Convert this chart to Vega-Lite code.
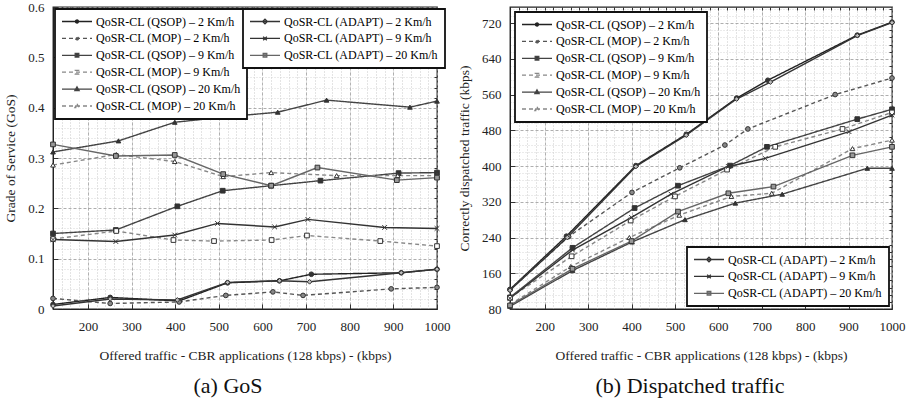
{
  "$schema": "https://vega.github.io/schema/vega-lite/v6.json",
  "padding": {"left": 3, "top": 0, "right": 5, "bottom": 0},
  "background": "white",
  "spacing": 5,
  "config": {
    "font": "Liberation Serif",
    "view": {"stroke": "#222", "strokeWidth": 1.3},
    "axis": {"labelFont": "Liberation Serif", "titleFont": "Liberation Serif", "labelFontSize": 13, "titleFontSize": 13.5, "titleFontWeight": "normal", "labelColor": "#222", "titleColor": "#222", "labelFlush": false},
    "legend": {"labelFont": "Liberation Serif"}
  },
  "datasets": {
    "gos": [
      {"s": "QoSR-CL (QSOP) – 2 Km/h", "g": "A", "x": 120, "y": 0.009},
      {"s": "QoSR-CL (QSOP) – 2 Km/h", "g": "A", "x": 251, "y": 0.023},
      {"s": "QoSR-CL (QSOP) – 2 Km/h", "g": "A", "x": 409, "y": 0.016},
      {"s": "QoSR-CL (QSOP) – 2 Km/h", "g": "A", "x": 520, "y": 0.052},
      {"s": "QoSR-CL (QSOP) – 2 Km/h", "g": "A", "x": 639, "y": 0.056},
      {"s": "QoSR-CL (QSOP) – 2 Km/h", "g": "A", "x": 712, "y": 0.069},
      {"s": "QoSR-CL (QSOP) – 2 Km/h", "g": "A", "x": 918, "y": 0.072},
      {"s": "QoSR-CL (QSOP) – 2 Km/h", "g": "A", "x": 1000, "y": 0.079},
      {"s": "QoSR-CL (MOP) – 2 Km/h", "g": "A", "x": 120, "y": 0.021},
      {"s": "QoSR-CL (MOP) – 2 Km/h", "g": "A", "x": 251, "y": 0.011},
      {"s": "QoSR-CL (MOP) – 2 Km/h", "g": "A", "x": 409, "y": 0.014},
      {"s": "QoSR-CL (MOP) – 2 Km/h", "g": "A", "x": 516, "y": 0.027},
      {"s": "QoSR-CL (MOP) – 2 Km/h", "g": "A", "x": 624, "y": 0.034},
      {"s": "QoSR-CL (MOP) – 2 Km/h", "g": "A", "x": 693, "y": 0.027},
      {"s": "QoSR-CL (MOP) – 2 Km/h", "g": "A", "x": 895, "y": 0.040},
      {"s": "QoSR-CL (MOP) – 2 Km/h", "g": "A", "x": 1000, "y": 0.043},
      {"s": "QoSR-CL (QSOP) – 9 Km/h", "g": "A", "x": 120, "y": 0.150},
      {"s": "QoSR-CL (QSOP) – 9 Km/h", "g": "A", "x": 264, "y": 0.157},
      {"s": "QoSR-CL (QSOP) – 9 Km/h", "g": "A", "x": 405, "y": 0.204},
      {"s": "QoSR-CL (QSOP) – 9 Km/h", "g": "A", "x": 509, "y": 0.235},
      {"s": "QoSR-CL (QSOP) – 9 Km/h", "g": "A", "x": 620, "y": 0.245},
      {"s": "QoSR-CL (QSOP) – 9 Km/h", "g": "A", "x": 733, "y": 0.255},
      {"s": "QoSR-CL (QSOP) – 9 Km/h", "g": "A", "x": 912, "y": 0.270},
      {"s": "QoSR-CL (QSOP) – 9 Km/h", "g": "A", "x": 1000, "y": 0.271},
      {"s": "QoSR-CL (MOP) – 9 Km/h", "g": "A", "x": 120, "y": 0.139},
      {"s": "QoSR-CL (MOP) – 9 Km/h", "g": "A", "x": 265, "y": 0.155},
      {"s": "QoSR-CL (MOP) – 9 Km/h", "g": "A", "x": 396, "y": 0.137},
      {"s": "QoSR-CL (MOP) – 9 Km/h", "g": "A", "x": 489, "y": 0.135},
      {"s": "QoSR-CL (MOP) – 9 Km/h", "g": "A", "x": 621, "y": 0.137},
      {"s": "QoSR-CL (MOP) – 9 Km/h", "g": "A", "x": 702, "y": 0.146},
      {"s": "QoSR-CL (MOP) – 9 Km/h", "g": "A", "x": 870, "y": 0.135},
      {"s": "QoSR-CL (MOP) – 9 Km/h", "g": "A", "x": 1000, "y": 0.125},
      {"s": "QoSR-CL (QSOP) – 20 Km/h", "g": "A", "x": 120, "y": 0.312},
      {"s": "QoSR-CL (QSOP) – 20 Km/h", "g": "A", "x": 270, "y": 0.334},
      {"s": "QoSR-CL (QSOP) – 20 Km/h", "g": "A", "x": 399, "y": 0.371},
      {"s": "QoSR-CL (QSOP) – 20 Km/h", "g": "A", "x": 520, "y": 0.382},
      {"s": "QoSR-CL (QSOP) – 20 Km/h", "g": "A", "x": 635, "y": 0.391},
      {"s": "QoSR-CL (QSOP) – 20 Km/h", "g": "A", "x": 747, "y": 0.415},
      {"s": "QoSR-CL (QSOP) – 20 Km/h", "g": "A", "x": 938, "y": 0.401},
      {"s": "QoSR-CL (QSOP) – 20 Km/h", "g": "A", "x": 1000, "y": 0.413},
      {"s": "QoSR-CL (MOP) – 20 Km/h", "g": "A", "x": 120, "y": 0.286},
      {"s": "QoSR-CL (MOP) – 20 Km/h", "g": "A", "x": 265, "y": 0.307},
      {"s": "QoSR-CL (MOP) – 20 Km/h", "g": "A", "x": 399, "y": 0.293},
      {"s": "QoSR-CL (MOP) – 20 Km/h", "g": "A", "x": 510, "y": 0.263},
      {"s": "QoSR-CL (MOP) – 20 Km/h", "g": "A", "x": 620, "y": 0.271},
      {"s": "QoSR-CL (MOP) – 20 Km/h", "g": "A", "x": 770, "y": 0.265},
      {"s": "QoSR-CL (MOP) – 20 Km/h", "g": "A", "x": 910, "y": 0.265},
      {"s": "QoSR-CL (MOP) – 20 Km/h", "g": "A", "x": 1000, "y": 0.265},
      {"s": "QoSR-CL (ADAPT) – 2 Km/h", "g": "B", "x": 120, "y": 0.006},
      {"s": "QoSR-CL (ADAPT) – 2 Km/h", "g": "B", "x": 251, "y": 0.020},
      {"s": "QoSR-CL (ADAPT) – 2 Km/h", "g": "B", "x": 405, "y": 0.018},
      {"s": "QoSR-CL (ADAPT) – 2 Km/h", "g": "B", "x": 520, "y": 0.053},
      {"s": "QoSR-CL (ADAPT) – 2 Km/h", "g": "B", "x": 639, "y": 0.056},
      {"s": "QoSR-CL (ADAPT) – 2 Km/h", "g": "B", "x": 708, "y": 0.054},
      {"s": "QoSR-CL (ADAPT) – 2 Km/h", "g": "B", "x": 918, "y": 0.072},
      {"s": "QoSR-CL (ADAPT) – 2 Km/h", "g": "B", "x": 1000, "y": 0.079},
      {"s": "QoSR-CL (ADAPT) – 9 Km/h", "g": "B", "x": 120, "y": 0.138},
      {"s": "QoSR-CL (ADAPT) – 9 Km/h", "g": "B", "x": 264, "y": 0.134},
      {"s": "QoSR-CL (ADAPT) – 9 Km/h", "g": "B", "x": 399, "y": 0.147},
      {"s": "QoSR-CL (ADAPT) – 9 Km/h", "g": "B", "x": 497, "y": 0.170},
      {"s": "QoSR-CL (ADAPT) – 9 Km/h", "g": "B", "x": 628, "y": 0.163},
      {"s": "QoSR-CL (ADAPT) – 9 Km/h", "g": "B", "x": 704, "y": 0.178},
      {"s": "QoSR-CL (ADAPT) – 9 Km/h", "g": "B", "x": 880, "y": 0.162},
      {"s": "QoSR-CL (ADAPT) – 9 Km/h", "g": "B", "x": 1000, "y": 0.160},
      {"s": "QoSR-CL (ADAPT) – 20 Km/h", "g": "B", "x": 120, "y": 0.327},
      {"s": "QoSR-CL (ADAPT) – 20 Km/h", "g": "B", "x": 264, "y": 0.304},
      {"s": "QoSR-CL (ADAPT) – 20 Km/h", "g": "B", "x": 399, "y": 0.306},
      {"s": "QoSR-CL (ADAPT) – 20 Km/h", "g": "B", "x": 510, "y": 0.268},
      {"s": "QoSR-CL (ADAPT) – 20 Km/h", "g": "B", "x": 620, "y": 0.245},
      {"s": "QoSR-CL (ADAPT) – 20 Km/h", "g": "B", "x": 726, "y": 0.281},
      {"s": "QoSR-CL (ADAPT) – 20 Km/h", "g": "B", "x": 908, "y": 0.256},
      {"s": "QoSR-CL (ADAPT) – 20 Km/h", "g": "B", "x": 1000, "y": 0.261}
    ],
    "trf": [
      {"s": "QoSR-CL (QSOP) – 2 Km/h", "g": "A", "x": 120, "y": 124},
      {"s": "QoSR-CL (QSOP) – 2 Km/h", "g": "A", "x": 250, "y": 243},
      {"s": "QoSR-CL (QSOP) – 2 Km/h", "g": "A", "x": 410, "y": 401},
      {"s": "QoSR-CL (QSOP) – 2 Km/h", "g": "A", "x": 526, "y": 471},
      {"s": "QoSR-CL (QSOP) – 2 Km/h", "g": "A", "x": 642, "y": 552},
      {"s": "QoSR-CL (QSOP) – 2 Km/h", "g": "A", "x": 714, "y": 592},
      {"s": "QoSR-CL (QSOP) – 2 Km/h", "g": "A", "x": 920, "y": 693},
      {"s": "QoSR-CL (QSOP) – 2 Km/h", "g": "A", "x": 1000, "y": 722},
      {"s": "QoSR-CL (MOP) – 2 Km/h", "g": "A", "x": 120, "y": 123},
      {"s": "QoSR-CL (MOP) – 2 Km/h", "g": "A", "x": 255, "y": 242},
      {"s": "QoSR-CL (MOP) – 2 Km/h", "g": "A", "x": 401, "y": 341},
      {"s": "QoSR-CL (MOP) – 2 Km/h", "g": "A", "x": 511, "y": 396},
      {"s": "QoSR-CL (MOP) – 2 Km/h", "g": "A", "x": 615, "y": 447},
      {"s": "QoSR-CL (MOP) – 2 Km/h", "g": "A", "x": 668, "y": 483},
      {"s": "QoSR-CL (MOP) – 2 Km/h", "g": "A", "x": 869, "y": 560},
      {"s": "QoSR-CL (MOP) – 2 Km/h", "g": "A", "x": 1000, "y": 597},
      {"s": "QoSR-CL (QSOP) – 9 Km/h", "g": "A", "x": 120, "y": 106},
      {"s": "QoSR-CL (QSOP) – 9 Km/h", "g": "A", "x": 264, "y": 217},
      {"s": "QoSR-CL (QSOP) – 9 Km/h", "g": "A", "x": 407, "y": 306},
      {"s": "QoSR-CL (QSOP) – 9 Km/h", "g": "A", "x": 507, "y": 356},
      {"s": "QoSR-CL (QSOP) – 9 Km/h", "g": "A", "x": 627, "y": 401},
      {"s": "QoSR-CL (QSOP) – 9 Km/h", "g": "A", "x": 712, "y": 443},
      {"s": "QoSR-CL (QSOP) – 9 Km/h", "g": "A", "x": 920, "y": 505},
      {"s": "QoSR-CL (QSOP) – 9 Km/h", "g": "A", "x": 1000, "y": 527},
      {"s": "QoSR-CL (MOP) – 9 Km/h", "g": "A", "x": 120, "y": 105},
      {"s": "QoSR-CL (MOP) – 9 Km/h", "g": "A", "x": 262, "y": 198},
      {"s": "QoSR-CL (MOP) – 9 Km/h", "g": "A", "x": 398, "y": 278},
      {"s": "QoSR-CL (MOP) – 9 Km/h", "g": "A", "x": 500, "y": 332},
      {"s": "QoSR-CL (MOP) – 9 Km/h", "g": "A", "x": 620, "y": 392},
      {"s": "QoSR-CL (MOP) – 9 Km/h", "g": "A", "x": 731, "y": 443},
      {"s": "QoSR-CL (MOP) – 9 Km/h", "g": "A", "x": 886, "y": 483},
      {"s": "QoSR-CL (MOP) – 9 Km/h", "g": "A", "x": 1000, "y": 520},
      {"s": "QoSR-CL (QSOP) – 20 Km/h", "g": "A", "x": 120, "y": 86},
      {"s": "QoSR-CL (QSOP) – 20 Km/h", "g": "A", "x": 264, "y": 166},
      {"s": "QoSR-CL (QSOP) – 20 Km/h", "g": "A", "x": 401, "y": 230},
      {"s": "QoSR-CL (QSOP) – 20 Km/h", "g": "A", "x": 523, "y": 280},
      {"s": "QoSR-CL (QSOP) – 20 Km/h", "g": "A", "x": 639, "y": 317},
      {"s": "QoSR-CL (QSOP) – 20 Km/h", "g": "A", "x": 747, "y": 337},
      {"s": "QoSR-CL (QSOP) – 20 Km/h", "g": "A", "x": 943, "y": 395},
      {"s": "QoSR-CL (QSOP) – 20 Km/h", "g": "A", "x": 1000, "y": 395},
      {"s": "QoSR-CL (MOP) – 20 Km/h", "g": "A", "x": 120, "y": 90},
      {"s": "QoSR-CL (MOP) – 20 Km/h", "g": "A", "x": 260, "y": 175},
      {"s": "QoSR-CL (MOP) – 20 Km/h", "g": "A", "x": 395, "y": 240},
      {"s": "QoSR-CL (MOP) – 20 Km/h", "g": "A", "x": 510, "y": 290},
      {"s": "QoSR-CL (MOP) – 20 Km/h", "g": "A", "x": 630, "y": 332},
      {"s": "QoSR-CL (MOP) – 20 Km/h", "g": "A", "x": 723, "y": 339},
      {"s": "QoSR-CL (MOP) – 20 Km/h", "g": "A", "x": 909, "y": 439},
      {"s": "QoSR-CL (MOP) – 20 Km/h", "g": "A", "x": 1000, "y": 458},
      {"s": "QoSR-CL (ADAPT) – 2 Km/h", "g": "B", "x": 120, "y": 122},
      {"s": "QoSR-CL (ADAPT) – 2 Km/h", "g": "B", "x": 252, "y": 240},
      {"s": "QoSR-CL (ADAPT) – 2 Km/h", "g": "B", "x": 410, "y": 399},
      {"s": "QoSR-CL (ADAPT) – 2 Km/h", "g": "B", "x": 526, "y": 469},
      {"s": "QoSR-CL (ADAPT) – 2 Km/h", "g": "B", "x": 642, "y": 550},
      {"s": "QoSR-CL (ADAPT) – 2 Km/h", "g": "B", "x": 720, "y": 588},
      {"s": "QoSR-CL (ADAPT) – 2 Km/h", "g": "B", "x": 920, "y": 692},
      {"s": "QoSR-CL (ADAPT) – 2 Km/h", "g": "B", "x": 1000, "y": 721},
      {"s": "QoSR-CL (ADAPT) – 9 Km/h", "g": "B", "x": 120, "y": 104},
      {"s": "QoSR-CL (ADAPT) – 9 Km/h", "g": "B", "x": 264, "y": 212},
      {"s": "QoSR-CL (ADAPT) – 9 Km/h", "g": "B", "x": 400, "y": 285},
      {"s": "QoSR-CL (ADAPT) – 9 Km/h", "g": "B", "x": 491, "y": 337},
      {"s": "QoSR-CL (ADAPT) – 9 Km/h", "g": "B", "x": 623, "y": 399},
      {"s": "QoSR-CL (ADAPT) – 9 Km/h", "g": "B", "x": 708, "y": 417},
      {"s": "QoSR-CL (ADAPT) – 9 Km/h", "g": "B", "x": 901, "y": 477},
      {"s": "QoSR-CL (ADAPT) – 9 Km/h", "g": "B", "x": 1000, "y": 514},
      {"s": "QoSR-CL (ADAPT) – 20 Km/h", "g": "B", "x": 120, "y": 88},
      {"s": "QoSR-CL (ADAPT) – 20 Km/h", "g": "B", "x": 264, "y": 170},
      {"s": "QoSR-CL (ADAPT) – 20 Km/h", "g": "B", "x": 400, "y": 232},
      {"s": "QoSR-CL (ADAPT) – 20 Km/h", "g": "B", "x": 507, "y": 298},
      {"s": "QoSR-CL (ADAPT) – 20 Km/h", "g": "B", "x": 623, "y": 339},
      {"s": "QoSR-CL (ADAPT) – 20 Km/h", "g": "B", "x": 727, "y": 354},
      {"s": "QoSR-CL (ADAPT) – 20 Km/h", "g": "B", "x": 909, "y": 424},
      {"s": "QoSR-CL (ADAPT) – 20 Km/h", "g": "B", "x": 1000, "y": 443}
    ]
  },
  "hconcat": [
    {
      "width": 384,
      "height": 302,
      "data": {"name": "gos"},
      "title": {"text": "(a) GoS", "orient": "bottom", "anchor": "middle", "frame": "group", "dx": -17, "offset": 14, "fontSize": 22, "font": "Liberation Serif", "fontWeight": "normal", "color": "#111"},
      "layer": [
        {
          "transform": [{"filter": "datum.g === 'A'"}],
          "mark": {"type": "line", "strokeWidth": 1.4},
          "encoding": {
            "x": {"field": "x", "type": "quantitative", "scale": {"domain": [120, 1000], "nice": false, "zero": false},
              "axis": {"orient": "bottom", "values": [200, 300, 400, 500, 600, 700, 800, 900, 1000], "format": "d", "grid": true, "gridDash": [3, 2], "gridColor": "#999", "gridWidth": 0.8, "tickSize": -5, "tickColor": "#333", "labelPadding": 16, "domainColor": "#222", "title": "Offered traffic - CBR applications (128 kbps) - (kbps)", "titlePadding": 15}},
            "y": {"field": "y", "type": "quantitative", "scale": {"domain": [0, 0.6], "nice": false},
              "axis": {"orient": "left", "values": [0, 0.1, 0.2, 0.3, 0.4, 0.5, 0.6], "format": ".1~f", "grid": true, "gridDash": [3, 2], "gridColor": "#999", "gridWidth": 0.8, "tickSize": -5, "tickColor": "#333", "labelPadding": 14, "domainColor": "#222", "title": "Grade of Service (GoS)", "titlePadding": 10}},
            "color": {"field": "s", "type": "nominal", "sort": null,
              "scale": {"domain": ["QoSR-CL (QSOP) – 2 Km/h", "QoSR-CL (MOP) – 2 Km/h", "QoSR-CL (QSOP) – 9 Km/h", "QoSR-CL (MOP) – 9 Km/h", "QoSR-CL (QSOP) – 20 Km/h", "QoSR-CL (MOP) – 20 Km/h"], "range": ["#222", "#555", "#444", "#888", "#444", "#888"]},
              "legend": {"orient": "none", "legendX": 2, "legendY": 2, "title": null, "fillColor": "white", "strokeColor": "#111", "padding": 6, "symbolSize": 900, "clipHeight": 13, "rowPadding": 3.9, "labelFontSize": 12, "labelOffset": 3, "labelLimit": 300, "symbolStrokeWidth": 1.3,
                "encode": {"legend": {"update": {"strokeWidth": {"value": 1.8}}},
                  "symbols": {"update": {
                    "shape": {"signal": "indexof(datum.value,' 2 Km')>=0 ? 'M-1,0H1M0.1,0A0.1,0.1 0 1,1 -0.1,0A0.1,0.1 0 1,1 0.1,0Z' : indexof(datum.value,' 9 Km')>=0 ? 'M-1,0H1M-0.12,-0.12H0.12V0.12H-0.12Z' : 'M-1,0H1M0,-0.15L0.14,0.1H-0.14Z'"},
                    "fill": {"signal": "indexof(datum.value,'MOP')>=0 ? (indexof(datum.value,' 2 Km')>=0 ? '#888' : 'white') : '#333'"},
                    "strokeDash": {"signal": "indexof(datum.value,'MOP')>=0 ? [4,3] : [1,0]"}}}}}},
            "strokeDash": {"field": "s", "type": "nominal", "sort": null,
              "scale": {"domain": ["QoSR-CL (QSOP) – 2 Km/h", "QoSR-CL (MOP) – 2 Km/h", "QoSR-CL (QSOP) – 9 Km/h", "QoSR-CL (MOP) – 9 Km/h", "QoSR-CL (QSOP) – 20 Km/h", "QoSR-CL (MOP) – 20 Km/h"], "range": [[1, 0], [4, 3], [1, 0], [4, 3], [1, 0], [4, 3]]}, "legend": null}
          }
        },
        {
          "transform": [{"filter": "datum.g === 'B'"}],
          "mark": {"type": "line", "strokeWidth": 1.4},
          "encoding": {
            "x": {"field": "x", "type": "quantitative", "axis": null},
            "y": {"field": "y", "type": "quantitative", "axis": null},
            "color": {"field": "s", "type": "nominal", "sort": null,
              "scale": {"domain": ["QoSR-CL (ADAPT) – 2 Km/h", "QoSR-CL (ADAPT) – 9 Km/h", "QoSR-CL (ADAPT) – 20 Km/h"], "range": ["#333", "#333", "#666"]},
              "legend": {"orient": "none", "legendX": 190, "legendY": 2, "title": null, "fillColor": "white", "strokeColor": "#111", "padding": 6, "symbolSize": 900, "clipHeight": 13, "rowPadding": 3.9, "labelFontSize": 12, "labelOffset": 3, "labelLimit": 300, "symbolStrokeWidth": 1.3,
                "encode": {"legend": {"update": {"strokeWidth": {"value": 1.8}}},
                  "symbols": {"update": {
                    "shape": {"signal": "indexof(datum.value,' 2 Km')>=0 ? 'M-1,0H1M0,-0.16L0.16,0L0,0.16L-0.16,0Z' : indexof(datum.value,' 9 Km')>=0 ? 'M-1,0H1M-0.12,-0.12L0.12,0.12M-0.12,0.12L0.12,-0.12' : 'M-1,0H1M-0.12,-0.12H0.12V0.12H-0.12Z'"},
                    "fill": {"signal": "indexof(datum.value,' 2 Km')>=0 ? '#aaa' : indexof(datum.value,' 9 Km')>=0 ? 'transparent' : '#999'"}}}}}}
          }
        },
        {
          "mark": {"type": "point", "filled": true, "size": 22, "stroke": "#333", "strokeWidth": 1, "opacity": 1},
          "encoding": {
            "x": {"field": "x", "type": "quantitative", "axis": {"orient": "top", "values": [140, 160, 180, 200, 220, 240, 260, 280, 300, 320, 340, 360, 380, 400, 420, 440, 460, 480, 500, 520, 540, 560, 580, 600, 620, 640, 660, 680, 700, 720, 740, 760, 780, 800, 820, 840, 860, 880, 900, 920, 940, 960, 980], "grid": true, "gridDash": [1, 2], "gridColor": "#bbb", "gridWidth": 0.8, "labels": false, "ticks": true, "tickSize": -3, "tickColor": "#333", "domain": false, "title": null}},
            "y": {"field": "y", "type": "quantitative", "axis": {"orient": "right", "values": [0.02, 0.04, 0.06, 0.08, 0.12, 0.14, 0.16, 0.18, 0.22, 0.24, 0.26, 0.28, 0.32, 0.34, 0.36, 0.38, 0.42, 0.44, 0.46, 0.48, 0.52, 0.54, 0.56, 0.58], "grid": true, "gridDash": [1, 2], "gridColor": "#ccc", "gridWidth": 0.8, "labels": false, "ticks": true, "tickSize": -3, "tickColor": "#333", "domain": false, "title": null}},
            "shape": {"field": "s", "type": "nominal", "sort": null, "legend": null,
              "scale": {"domain": ["QoSR-CL (QSOP) – 2 Km/h", "QoSR-CL (MOP) – 2 Km/h", "QoSR-CL (QSOP) – 9 Km/h", "QoSR-CL (MOP) – 9 Km/h", "QoSR-CL (QSOP) – 20 Km/h", "QoSR-CL (MOP) – 20 Km/h", "QoSR-CL (ADAPT) – 2 Km/h", "QoSR-CL (ADAPT) – 9 Km/h", "QoSR-CL (ADAPT) – 20 Km/h"], "range": ["circle", "circle", "square", "square", "triangle-up", "triangle-up", "diamond", "M-1,-1L1,1M-1,1L1,-1", "square"]}},
            "fill": {"field": "s", "type": "nominal", "sort": null, "legend": null,
              "scale": {"domain": ["QoSR-CL (QSOP) – 2 Km/h", "QoSR-CL (MOP) – 2 Km/h", "QoSR-CL (QSOP) – 9 Km/h", "QoSR-CL (MOP) – 9 Km/h", "QoSR-CL (QSOP) – 20 Km/h", "QoSR-CL (MOP) – 20 Km/h", "QoSR-CL (ADAPT) – 2 Km/h", "QoSR-CL (ADAPT) – 9 Km/h", "QoSR-CL (ADAPT) – 20 Km/h"], "range": ["#333", "#888", "#333", "#fff", "#333", "#fff", "#bbb", "transparent", "#999"]}}
          }
        }
      ],
      "resolve": {"scale": {"color": "independent"}, "axis": {"x": "independent", "y": "independent"}}
    },
    {
      "width": 382,
      "height": 302,
      "data": {"name": "trf"},
      "title": {"text": "(b) Dispatched traffic", "orient": "bottom", "anchor": "middle", "frame": "group", "dx": -11, "offset": 14, "fontSize": 22, "font": "Liberation Serif", "fontWeight": "normal", "color": "#111"},
      "layer": [
        {
          "transform": [{"filter": "datum.g === 'A'"}],
          "mark": {"type": "line", "strokeWidth": 1.4},
          "encoding": {
            "x": {"field": "x", "type": "quantitative", "scale": {"domain": [120, 1000], "nice": false, "zero": false},
              "axis": {"orient": "bottom", "values": [200, 300, 400, 500, 600, 700, 800, 900, 1000], "format": "d", "grid": true, "gridDash": [3, 2], "gridColor": "#999", "gridWidth": 0.8, "tickSize": -5, "tickColor": "#333", "labelPadding": 16, "domainColor": "#222", "title": "Offered traffic - CBR applications (128 kbps) - (kbps)", "titlePadding": 15}},
            "y": {"field": "y", "type": "quantitative", "scale": {"domain": [80, 756], "nice": false, "zero": false},
              "axis": {"orient": "left", "values": [80, 160, 240, 320, 400, 480, 560, 640, 720], "grid": true, "gridDash": [3, 2], "gridColor": "#999", "gridWidth": 0.8, "tickSize": -5, "tickColor": "#333", "labelPadding": 14, "domainColor": "#222", "title": "Correctly dispatched traffic (kbps)", "titlePadding": 10}},
            "color": {"field": "s", "type": "nominal", "sort": null,
              "scale": {"domain": ["QoSR-CL (QSOP) – 2 Km/h", "QoSR-CL (MOP) – 2 Km/h", "QoSR-CL (QSOP) – 9 Km/h", "QoSR-CL (MOP) – 9 Km/h", "QoSR-CL (QSOP) – 20 Km/h", "QoSR-CL (MOP) – 20 Km/h"], "range": ["#222", "#555", "#444", "#888", "#444", "#888"]},
              "legend": {"orient": "none", "legendX": 5, "legendY": 5, "title": null, "fillColor": "white", "strokeColor": "#111", "padding": 6, "symbolSize": 900, "clipHeight": 13, "rowPadding": 3.9, "labelFontSize": 12, "labelOffset": 3, "labelLimit": 300, "symbolStrokeWidth": 1.3,
                "encode": {"legend": {"update": {"strokeWidth": {"value": 1.8}}},
                  "symbols": {"update": {
                    "shape": {"signal": "indexof(datum.value,' 2 Km')>=0 ? 'M-1,0H1M0.1,0A0.1,0.1 0 1,1 -0.1,0A0.1,0.1 0 1,1 0.1,0Z' : indexof(datum.value,' 9 Km')>=0 ? 'M-1,0H1M-0.12,-0.12H0.12V0.12H-0.12Z' : 'M-1,0H1M0,-0.15L0.14,0.1H-0.14Z'"},
                    "fill": {"signal": "indexof(datum.value,'MOP')>=0 ? (indexof(datum.value,' 2 Km')>=0 ? '#888' : 'white') : '#333'"},
                    "strokeDash": {"signal": "indexof(datum.value,'MOP')>=0 ? [4,3] : [1,0]"}}}}}},
            "strokeDash": {"field": "s", "type": "nominal", "sort": null,
              "scale": {"domain": ["QoSR-CL (QSOP) – 2 Km/h", "QoSR-CL (MOP) – 2 Km/h", "QoSR-CL (QSOP) – 9 Km/h", "QoSR-CL (MOP) – 9 Km/h", "QoSR-CL (QSOP) – 20 Km/h", "QoSR-CL (MOP) – 20 Km/h"], "range": [[1, 0], [4, 3], [1, 0], [4, 3], [1, 0], [4, 3]]}, "legend": null}
          }
        },
        {
          "transform": [{"filter": "datum.g === 'B'"}],
          "mark": {"type": "line", "strokeWidth": 1.4},
          "encoding": {
            "x": {"field": "x", "type": "quantitative", "axis": null},
            "y": {"field": "y", "type": "quantitative", "axis": null},
            "color": {"field": "s", "type": "nominal", "sort": null,
              "scale": {"domain": ["QoSR-CL (ADAPT) – 2 Km/h", "QoSR-CL (ADAPT) – 9 Km/h", "QoSR-CL (ADAPT) – 20 Km/h"], "range": ["#333", "#333", "#666"]},
              "legend": {"orient": "none", "legendX": 177, "legendY": 240, "title": null, "fillColor": "white", "strokeColor": "#111", "padding": 6, "symbolSize": 900, "clipHeight": 13, "rowPadding": 3.9, "labelFontSize": 12, "labelOffset": 3, "labelLimit": 300, "symbolStrokeWidth": 1.3,
                "encode": {"legend": {"update": {"strokeWidth": {"value": 1.8}}},
                  "symbols": {"update": {
                    "shape": {"signal": "indexof(datum.value,' 2 Km')>=0 ? 'M-1,0H1M0,-0.16L0.16,0L0,0.16L-0.16,0Z' : indexof(datum.value,' 9 Km')>=0 ? 'M-1,0H1M-0.12,-0.12L0.12,0.12M-0.12,0.12L0.12,-0.12' : 'M-1,0H1M-0.12,-0.12H0.12V0.12H-0.12Z'"},
                    "fill": {"signal": "indexof(datum.value,' 2 Km')>=0 ? '#aaa' : indexof(datum.value,' 9 Km')>=0 ? 'transparent' : '#999'"}}}}}}
          }
        },
        {
          "mark": {"type": "point", "filled": true, "size": 22, "stroke": "#333", "strokeWidth": 1, "opacity": 1},
          "encoding": {
            "x": {"field": "x", "type": "quantitative", "axis": {"orient": "top", "values": [140, 160, 180, 200, 220, 240, 260, 280, 300, 320, 340, 360, 380, 400, 420, 440, 460, 480, 500, 520, 540, 560, 580, 600, 620, 640, 660, 680, 700, 720, 740, 760, 780, 800, 820, 840, 860, 880, 900, 920, 940, 960, 980], "grid": true, "gridDash": [1, 2], "gridColor": "#bbb", "gridWidth": 0.8, "labels": false, "ticks": true, "tickSize": -3, "tickColor": "#333", "domain": false, "title": null}},
            "y": {"field": "y", "type": "quantitative", "axis": {"orient": "right", "values": [96, 112, 128, 144, 176, 192, 208, 224, 256, 272, 288, 304, 336, 352, 368, 384, 416, 432, 448, 464, 496, 512, 528, 544, 576, 592, 608, 624, 656, 672, 688, 704, 736, 752], "grid": true, "gridDash": [1, 2], "gridColor": "#ccc", "gridWidth": 0.8, "labels": false, "ticks": true, "tickSize": -3, "tickColor": "#333", "domain": false, "title": null}},
            "shape": {"field": "s", "type": "nominal", "sort": null, "legend": null,
              "scale": {"domain": ["QoSR-CL (QSOP) – 2 Km/h", "QoSR-CL (MOP) – 2 Km/h", "QoSR-CL (QSOP) – 9 Km/h", "QoSR-CL (MOP) – 9 Km/h", "QoSR-CL (QSOP) – 20 Km/h", "QoSR-CL (MOP) – 20 Km/h", "QoSR-CL (ADAPT) – 2 Km/h", "QoSR-CL (ADAPT) – 9 Km/h", "QoSR-CL (ADAPT) – 20 Km/h"], "range": ["circle", "circle", "square", "square", "triangle-up", "triangle-up", "diamond", "M-1,-1L1,1M-1,1L1,-1", "square"]}},
            "fill": {"field": "s", "type": "nominal", "sort": null, "legend": null,
              "scale": {"domain": ["QoSR-CL (QSOP) – 2 Km/h", "QoSR-CL (MOP) – 2 Km/h", "QoSR-CL (QSOP) – 9 Km/h", "QoSR-CL (MOP) – 9 Km/h", "QoSR-CL (QSOP) – 20 Km/h", "QoSR-CL (MOP) – 20 Km/h", "QoSR-CL (ADAPT) – 2 Km/h", "QoSR-CL (ADAPT) – 9 Km/h", "QoSR-CL (ADAPT) – 20 Km/h"], "range": ["#333", "#888", "#333", "#fff", "#333", "#fff", "#bbb", "transparent", "#999"]}}
          }
        }
      ],
      "resolve": {"scale": {"color": "independent"}, "axis": {"x": "independent", "y": "independent"}}
    }
  ]
}
